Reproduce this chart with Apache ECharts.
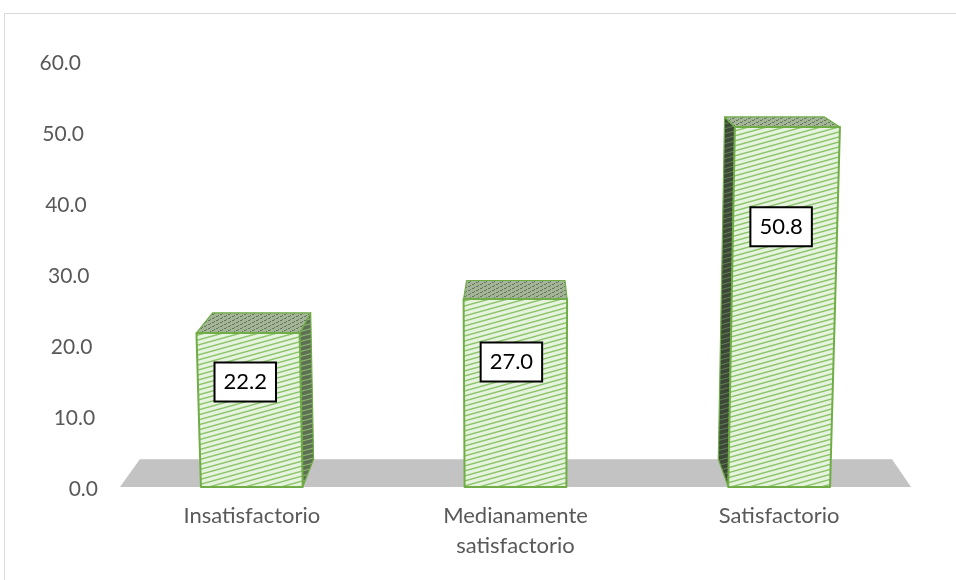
<!DOCTYPE html>
<html>
<head>
<meta charset="utf-8">
<script src="https://cdn.jsdelivr.net/npm/echarts@6/dist/echarts.min.js"></script>
<style>
  html, body { margin: 0; padding: 0; background: #fff; }
  #chart { width: 956px; height: 580px; }
</style>
</head>
<body>
<div id="chart"></div>
<script>
// Survey result shares (%)
const categories = ['Insatisfactorio', 'Medianamente\nsatisfactorio', 'Satisfactorio'];
const values = [22.2, 27.0, 50.8];
const yTicks = [0, 10, 20, 30, 40, 50, 60];

// Where each data label sits along its bar (fraction of the bar value)
const labelLift = [0.685, 0.67, 0.73];

// Perspective camera for the pseudo-3D columns
const VX = 525, VY = -79;      // vanishing point of the depth direction
const DEPTH_K = 0.951;         // back plane scale relative to front plane
const KEY = 9e-5;              // vertical keystone (columns widen upward)
const BASE_Y = 487;            // front edge of the floor
const BAR_FRAC = 0.386;        // column width relative to the category band
const FONT = 'Lato, "Open Sans", sans-serif';

function keystone(x, y) { return VX + (x - VX) * (1 + KEY * (BASE_Y - y)); }
function toBack(p) { return [VX + (p[0] - VX) * DEPTH_K, VY + (p[1] - VY) * DEPTH_K]; }
// height on the linear axis -> height on the tilted front plane
function warpY(yLin, zeroLin) {
  const h = zeroLin - yLin;
  return BASE_Y - (0.9607 * h + 1.0375e-4 * h * h);
}

function stripeTile(bg, fg, lw) {
  const w = 18, h = 5;
  const c = document.createElement('canvas');
  c.width = w; c.height = h;
  const g = c.getContext('2d');
  g.fillStyle = bg; g.fillRect(0, 0, w, h);
  g.strokeStyle = fg; g.lineWidth = lw;
  for (let k = -1; k <= 1; k++) {
    g.beginPath();
    g.moveTo(-w, (k + 2) * h);
    g.lineTo(2 * w, (k - 1) * h);
    g.stroke();
  }
  return { image: c, repeat: 'repeat' };
}

function speckleTile(bg, fg) {
  const c = document.createElement('canvas');
  c.width = 8; c.height = 4;
  const g = c.getContext('2d');
  g.fillStyle = bg; g.fillRect(0, 0, 8, 4);
  g.fillStyle = fg;
  [[0, 0], [1, 0], [4, 2], [5, 2], [2, 3], [6, 1]].forEach(p => g.fillRect(p[0], p[1], 1, 1));
  return { image: c, repeat: 'repeat' };
}

const frontFill = stripeTile('#e6f3de', '#8cc46a', 1.4);
const rightSideFill = stripeTile('#5e7054', '#8dbb6f', 1.2);
const leftSideFill = stripeTile('#3d4839', '#5f7d52', 1.2);
const topFill = speckleTile('#a3b596', '#62785a');
const EDGE = '#70ad47';

function poly(points, fill, stroke, lw) {
  return {
    type: 'polygon',
    shape: { points: points },
    style: { fill: fill, stroke: stroke || EDGE, lineWidth: lw == null ? 1.2 : lw, lineJoin: 'round' }
  };
}

function renderFloor(params, api) {
  const cs = params.coordSys;
  const l = cs.x, r = cs.x + cs.width;
  const fl = [l, BASE_Y], fr = [r, BASE_Y];
  return {
    type: 'polygon',
    shape: { points: [fl, fr, toBack(fr), toBack(fl)] },
    style: { fill: '#c3c3c3' }
  };
}

function renderBar(params, api) {
  const idx = api.value(0);
  const val = api.value(1);
  const c0 = api.coord([idx, 0]);
  const c1 = api.coord([idx, val]);
  const bw = api.size([1, 0])[0] * BAR_FRAC;
  const yTop = warpY(c1[1], c0[1]);
  const xl = c0[0] - bw / 2, xr = c0[0] + bw / 2;

  const FLB = [keystone(xl, BASE_Y), BASE_Y];
  const FRB = [keystone(xr, BASE_Y), BASE_Y];
  const FRT = [keystone(xr, yTop), yTop];
  const FLT = [keystone(xl, yTop), yTop];

  const children = [];
  if (FRB[0] < VX) {
    children.push(poly([FRB, FRT, toBack(FRT), toBack(FRB)], rightSideFill));
  }
  if (FLB[0] > VX) {
    children.push(poly([FLB, FLT, toBack(FLT), toBack(FLB)], leftSideFill));
  }
  children.push(poly([FLT, FRT, toBack(FRT), toBack(FLT)], topFill));
  children.push(poly([FLB, FRB, FRT, FLT], frontFill, EDGE, 2));

  // value label box on the front face
  const cl = api.coord([idx, val * labelLift[params.dataIndex]]);
  const ly = warpY(cl[1], c0[1]);
  const lx = keystone(c0[0], ly) - 4;
  children.push({
    type: 'text',
    z2: 10,
    style: {
      text: val.toFixed(1),
      x: lx, y: ly,
      align: 'center', verticalAlign: 'middle',
      font: '22px ' + FONT,
      fill: '#000',
      backgroundColor: '#fff',
      borderColor: '#000',
      borderWidth: 2,
      padding: [8, 8, 7, 8]
    }
  });
  return { type: 'group', children: children };
}

// y labels follow the slanted left edge of the box
const yRich = {};
yTicks.forEach((t, i) => {
  yRich['t' + i] = {
    fontSize: 21, fontFamily: FONT, color: '#595959',
    padding: [0, (t / 60) * 17, 0, 0]
  };
});

const chart = echarts.init(document.getElementById('chart'), null, { renderer: 'canvas' });
chart.setOption({
  animation: false,
  backgroundColor: '#fff',
  graphic: [{
    type: 'rect',
    shape: { x: 4.5, y: 13.5, width: 1000, height: 1000 },
    style: { fill: 'none', stroke: '#d9d9d9', lineWidth: 1 },
    silent: true
  }],
  grid: { left: 120, right: 45, top: 63, bottom: 91 },
  xAxis: {
    type: 'category',
    data: categories,
    axisLine: { show: false },
    axisTick: { show: false },
    splitLine: { show: false },
    axisLabel: {
      margin: 12,
      fontSize: 22,
      lineHeight: 30,
      fontFamily: FONT,
      color: '#595959',
      interval: 0
    }
  },
  yAxis: {
    type: 'value',
    min: 0, max: 60, interval: 10,
    axisLine: { show: false },
    axisTick: { show: false },
    splitLine: { show: false },
    axisLabel: {
      margin: 22,
      align: 'right',
      formatter: v => '{t' + yTicks.indexOf(v) + '|' + v.toFixed(1) + '}',
      rich: yRich
    }
  },
  series: [
    {
      type: 'custom',
      z: 1,
      renderItem: renderFloor,
      data: [[0, 0]],
      encode: { x: 0, y: 1 },
      silent: true
    },
    {
      type: 'custom',
      z: 2,
      renderItem: renderBar,
      data: values.map((v, i) => [i, v]),
      encode: { x: 0, y: 1 },
      clip: false
    }
  ]
});
</script>
</body>
</html>
